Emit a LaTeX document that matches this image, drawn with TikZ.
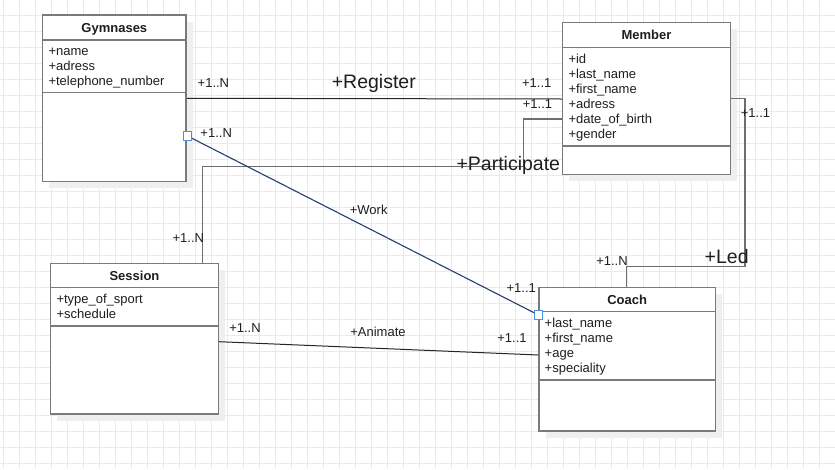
\documentclass[tikz,border=0pt]{standalone}
\usepackage{fontspec}
\setmainfont{Liberation Sans}
\begin{document}
\begin{tikzpicture}[x=1pt,y=-1pt,
  classbox/.style={draw=boxgray, line width=1.4pt, fill=white, rectangle, inner sep=0pt},
  shadowbox/.style={fill=shadowgray, draw=none, rectangle, inner sep=0pt},
  title/.style={font=\fontsize{13}{15}\selectfont\bfseries, text=txt, inner sep=0pt},
  attr/.style={font=\fontsize{13}{15}\selectfont, text=txt, inner sep=0pt, anchor=base west},
  lbl/.style={font=\fontsize{13}{15}\selectfont, text=txt, inner sep=0pt, anchor=base},
  biglbl/.style={font=\fontsize{19.5}{22}\selectfont, text=txt, inner sep=0pt, anchor=base},
  sep/.style={draw=boxgray, line width=1.4pt},
  conngray/.style={draw=linegray, line width=1.4pt},
  connblack/.style={draw=black!85, line width=1pt},
  handle/.style={draw=handleblue, fill=white, line width=0.9pt, rectangle, minimum size=8.5pt, inner sep=0pt}
]
\definecolor{boxgray}{HTML}{7A7A7A}
\definecolor{linegray}{HTML}{6E6E6E}
\definecolor{shadowgray}{HTML}{EFEFEF}
\definecolor{gridgray}{HTML}{EAEAEA}
\definecolor{txt}{HTML}{1E1E1E}
\definecolor{handleblue}{HTML}{4A8FE0}
\definecolor{workblue}{HTML}{23406E}

\useasboundingbox (0,0) rectangle (835,469);
\fill[white] (0,0) rectangle (835,469);
% grid
\foreach \gx in {3.7,19.7,...,835} \draw[gridgray, line width=0.9pt] (\gx,0) -- (\gx,469);
\foreach \gy in {15.7,31.7,...,469} \draw[gridgray, line width=0.9pt] (0,\gy) -- (835,\gy);

% shadows
\node[shadowbox, minimum width=143.3pt, minimum height=166.7pt] (gymS) at (120.9,104.9) {};
\node[shadowbox, minimum width=167.6pt, minimum height=151.6pt] (memS) at (653,105) {};
\node[shadowbox, minimum width=167.6pt, minimum height=150.7pt] (sesS) at (141,345.2) {};
\node[shadowbox, minimum width=176.3pt, minimum height=143.7pt] (coachS) at (633.7,365.7) {};

% boxes
\node[classbox, minimum width=143.3pt, minimum height=166.7pt] (gym) at (114.35,98.35) {};
\node[classbox, minimum width=167.6pt, minimum height=151.6pt] (mem) at (646.5,98.5) {};
\node[classbox, minimum width=167.6pt, minimum height=150.7pt] (ses) at (134.5,338.65) {};
\node[classbox, minimum width=176.3pt, minimum height=143.7pt] (coach) at (627.15,359.15) {};

% separators
\draw[sep] (gym.west |- 0,40) -- (gym.east |- 0,40);
\draw[sep] (gym.west |- 0,92.7) -- (gym.east |- 0,92.7);
\draw[sep] (mem.west |- 0,47.7) -- (mem.east |- 0,47.7);
\draw[sep] (mem.west |- 0,146) -- (mem.east |- 0,146);
\draw[sep] (ses.west |- 0,287.7) -- (ses.east |- 0,287.7);
\draw[sep] (ses.west |- 0,326) -- (ses.east |- 0,326);
\draw[sep] (coach.west |- 0,311.7) -- (coach.east |- 0,311.7);
\draw[sep] (coach.west |- 0,380) -- (coach.east |- 0,380);

% titles (baseline placement)
\node[title, anchor=base] (gymT) at (114.35,32.2) {Gymnases};
\node[title, anchor=base] (memT) at (646.5,39.8) {Member};
\node[title, anchor=base] (sesT) at (134.5,280.1) {Session};
\node[title, anchor=base] (coachT) at (627.15,304.1) {Coach};

% attributes
\node[attr] (gymA1) at (48.3,55.6) {+name};
\node[attr] (gymA2) at (48.3,70.6) {+adress};
\node[attr] (gymA3) at (48.3,85.6) {+telephone\_number};

\node[attr] (memA1) at (568.3,63.9) {+id};
\node[attr] (memA2) at (568.3,78.9) {+last\_name};
\node[attr] (memA3) at (568.3,93.9) {+first\_name};
\node[attr] (memA4) at (568.3,108.9) {+adress};
\node[attr] (memA5) at (568.3,123.9) {+date\_of\_birth};
\node[attr] (memA6) at (568.3,138.9) {+gender};

\node[attr] (sesA1) at (56.3,303.9) {+type\_of\_sport};
\node[attr] (sesA2) at (56.3,318.9) {+schedule};

\node[attr] (coachA1) at (544.5,327.2) {+last\_name};
\node[attr] (coachA2) at (544.5,342.2) {+first\_name};
\node[attr] (coachA3) at (544.5,357.2) {+age};
\node[attr] (coachA4) at (544.5,372.2) {+speciality};

% connectors
% Register
\draw[connblack] (gym.east |- 0,98.3) -- (mem.west |- 0,99);
% Participate
\coordinate (pA) at (523.3,119);
\coordinate (pB) at (523.3,166.7);
\coordinate (pC) at (202.7,166.7);
\draw[conngray] (mem.west |- pA) -- (pA) -- (pB) -- (pC) -- (pC |- ses.north);
% Led
\coordinate (lA) at (745,98.3);
\coordinate (lB) at (745,266.7);
\coordinate (lC) at (626.7,266.7);
\draw[conngray] (mem.east |- lA) -- (lA) -- (lB) -- (lC) -- (lC |- coach.north);
% Animate
\draw[connblack] (ses.east |- 0,341.7) -- (coach.west |- 0,355);
% Work
\coordinate (wG) at (187.5,136);
\coordinate (wC) at (538.5,315);
\draw[workblue, line width=1.1pt] (wG) -- (wC);
\node[handle] (hG) at (wG) {};
\node[handle] (hC) at (wC) {};

% labels (baseline placement)
\node[lbl] (l1) at (213.4,87) {+1..N};
\node[biglbl] (lReg) at (373.8,88.3) {+Register};
\node[lbl] (l2) at (536.7,87.4) {+1..1};
\node[lbl] (l3) at (537.5,108) {+1..1};
\node[biglbl] (lPar) at (508.3,170.8) {+Participate};
\node[lbl] (l4) at (188.3,242) {+1..N};
\node[lbl] (l5) at (216.2,137) {+1..N};
\node[lbl] (lWork) at (368.7,214.4) {+Work};
\node[lbl] (l6) at (521.2,292.7) {+1..1};
\node[lbl] (l7) at (245,332) {+1..N};
\node[lbl] (lAni) at (378,336.7) {+Animate};
\node[lbl] (l8) at (512,342.4) {+1..1};
\node[lbl] (l9) at (755.5,117) {+1..1};
\node[biglbl] (lLed) at (726.7,263) {+Led};
\node[lbl] (l10) at (612,265.4) {+1..N};
\end{tikzpicture}
\end{document}
